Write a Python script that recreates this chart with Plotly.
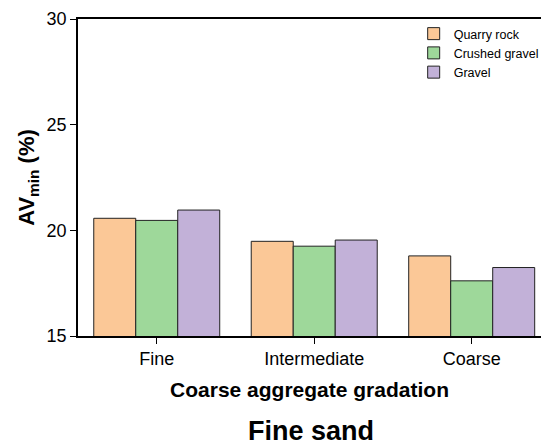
import plotly.graph_objects as go

categories = ["Fine", "Intermediate", "Coarse"]
quarry_rock = [20.57, 19.48, 18.79]
crushed_gravel = [20.47, 19.25, 17.61]
gravel = [20.96, 19.54, 18.24]

series = [
    ("Quarry rock", quarry_rock, "#FBC897"),
    ("Crushed gravel", crushed_gravel, "#9ED89A"),
    ("Gravel", gravel, "#C2B1D8"),
]

FONT = "Arial, 'Liberation Sans', sans-serif"

fig = go.Figure()
for name, vals, color in series:
    fig.add_trace(go.Bar(
        x=categories, y=vals, name=name,
        marker=dict(color=color, line=dict(color="#222222", width=1)),
    ))

fig.update_layout(
    width=544, height=447,
    margin=dict(l=78, r=0, t=19, b=111),
    paper_bgcolor="white", plot_bgcolor="white",
    barmode="group", bargap=0.2, bargroupgap=0,
    font=dict(family=FONT, color="black"),
    showlegend=True,
    legend=dict(
        x=0.725, y=1.0, xanchor="left", yanchor="top",
        font=dict(size=12.5, family=FONT), tracegroupgap=0,
        bgcolor="rgba(0,0,0,0)", itemwidth=30,
    ),
    xaxis=dict(
        range=[-0.5, 2.44], showline=True, linecolor="black", linewidth=1.5,
        mirror=True, ticks="outside", ticklen=6, tickcolor="black",
        tickfont=dict(size=18), showgrid=False,
        title=dict(text="<b>Coarse aggregate gradation</b>", font=dict(size=21), standoff=14),
    ),
    yaxis=dict(
        range=[15, 30], tickvals=[15, 20, 25, 30], showline=True, linecolor="black",
        linewidth=1.5, mirror=False, ticks="outside", ticklen=6, tickcolor="black",
        tickfont=dict(size=18), showgrid=False, zeroline=False,
        title=dict(text="<b>AV<sub>min</sub> (%)</b>", font=dict(size=22), standoff=6),
    ),
    annotations=[dict(
        text="<b>Fine sand</b>", xref="paper", yref="paper", x=0.504, y=-0.30,
        xanchor="center", yanchor="middle", showarrow=False,
        font=dict(size=27, family=FONT),
    )],
)

fig.write_html(
    "out.html",
    config={"displayModeBar": False},
    post_script="document.body.style.margin='0';document.body.style.overflow='hidden';",
)
